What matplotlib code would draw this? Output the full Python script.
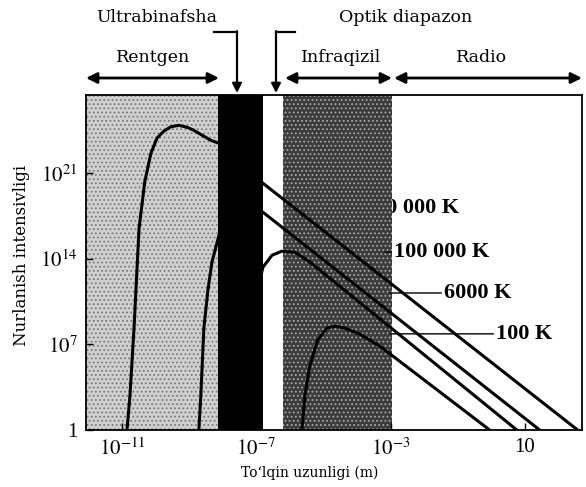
import matplotlib
matplotlib.use('Agg')
import numpy as np
import matplotlib.pyplot as plt
from matplotlib.lines import Line2D

plt.rcParams['font.family'] = ['Liberation Serif', 'DejaVu Serif']
plt.rcParams['mathtext.fontset'] = 'stix'
plt.rcParams['hatch.linewidth'] = 0.8

# curves, as log10 values (wavelength in m, intensity)
lam_10m = [-10.85, -10.76, -10.64, -10.49, -10.32, -10.14, -9.96, -9.75, -9.54, -9.30, -9.05, -8.86, -8.35, -8.11, -6.80, 2.57]
int_10m = [0, 2.86, 8.33, 16.50, 20.30, 22.60, 23.86, 24.45, 24.80, 24.92, 24.75, 24.51, 23.69, 23.45, 20.18, 0]

lam_100k = [-8.71, -8.65, -8.56, -8.44, -8.32, -8.11, -7.49, -6.80, 1.44]
int_100k = [0, 2.86, 8.33, 11.44, 13.73, 15.93, 17.97, 17.81, 0]

lam_6000 = [-7.64, -7.04, -6.80, -6.53, -6.24, -5.85, -5.40, 0.76]
int_6000 = [0, 10.62, 13.32, 14.30, 14.62, 14.54, 13.73, 0]

lam_100 = [-5.64, -5.55, -5.40, -5.17, -4.90, -4.66, -4.36, -3.92, -3.32, -0.05]
int_100 = [0, 2.86, 5.31, 7.35, 8.33, 8.50, 8.33, 7.84, 6.86, 0]

# spectral bands, log10 of wavelength
xray_end = -8.14
uv_end = -6.80
ir_start = -6.21
ir_end = -2.96

x_ticks = [1e-11, 1e-7, 1e-3, 10]
x_labels = ['$10^{-11}$', '$10^{-7}$', '$10^{-3}$', '10']
y_ticks = [1, 1e7, 1e14, 1e21]
y_labels = ['1', '$10^{7}$', '$10^{14}$', '$10^{21}$']

W, H = 586, 487
fig = plt.figure(figsize=(W / 100, H / 100), dpi=100)
ax = fig.add_axes([86 / W, 57 / H, 496 / W, 335 / H])
ax.set_xscale('log')
ax.set_yscale('log')
xmin, xmax = 10 ** -12.07, 10 ** 2.7
ax.set_xlim(xmin, xmax)
ax.set_ylim(1, 10 ** 27.4)

# shaded bands
ax.axvspan(xmin, 10 ** xray_end, facecolor='#cfcfcf', edgecolor='#7a7a7a',
           hatch='....', linewidth=0, zorder=0.5)
ax.axvspan(10 ** xray_end, 10 ** uv_end, facecolor='black', linewidth=0, zorder=3)
ax.axvspan(10 ** ir_start, 10 ** ir_end, facecolor='#3c3c3c', edgecolor='#a8a8a8',
           hatch='....', linewidth=0, zorder=1.5)

# blackbody curves
for lam, inten in [(lam_10m, int_10m), (lam_100k, int_100k),
                   (lam_6000, int_6000), (lam_100, int_100)]:
    ax.plot(10 ** np.array(lam), 10 ** np.array(inten), color='black',
            lw=2.2, solid_capstyle='butt', solid_joinstyle='round', zorder=2)

# temperature labels
ax.text(0.505, 0.663, '10 000 000 K', transform=ax.transAxes, fontsize=16,
        fontweight='bold', va='center', ha='left', zorder=1)
label_kw = dict(xycoords='axes fraction', textcoords='axes fraction', fontsize=16,
                fontweight='bold', va='center', ha='left', zorder=4,
                arrowprops=dict(arrowstyle='-', lw=1, shrinkA=0, shrinkB=0, color='black'))
ax.annotate('100 000 K', xy=(0.603, 0.531), xytext=(0.621, 0.531), **label_kw)
ax.annotate('6000 K', xy=(0.613, 0.409), xytext=(0.722, 0.409), **label_kw)
ax.annotate('100 K', xy=(0.613, 0.287), xytext=(0.827, 0.287), **label_kw)

ax.set_xticks(x_ticks)
ax.set_xticklabels(x_labels, fontsize=15)
ax.set_yticks(y_ticks)
ax.set_yticklabels(y_labels, fontsize=15)
ax.minorticks_off()
ax.tick_params(direction='in', length=5, width=1, pad=6)
for s in ax.spines.values():
    s.set_linewidth(1.3)
    s.set_zorder(5)


# helpers in picture pixels (top-left origin)
def fx(x):
    return x / W


def fy(y):
    return 1 - y / H


def harrow(x1, x2, y):
    fig.add_artist(plt.Annotation('', xy=(fx(x2), fy(y)), xytext=(fx(x1), fy(y)),
                                  xycoords='figure fraction', textcoords='figure fraction',
                                  arrowprops=dict(arrowstyle='<|-|>', lw=2, color='black',
                                                  mutation_scale=16, shrinkA=0, shrinkB=0)))


def bracket(x_end, x_other, y_top, y_tip):
    fig.add_artist(Line2D([fx(x_other), fx(x_end)], [fy(y_top), fy(y_top)],
                          transform=fig.transFigure, color='black', lw=1.6))
    fig.add_artist(plt.Annotation('', xy=(fx(x_end), fy(y_tip)), xytext=(fx(x_end), fy(y_top - 0.8)),
                                  xycoords='figure fraction', textcoords='figure fraction',
                                  arrowprops=dict(arrowstyle='-|>', lw=1.6, color='black',
                                                  mutation_scale=14, shrinkA=0, shrinkB=0)))


harrow(86, 219, 78)
harrow(285, 392, 78)
harrow(394, 582, 78)
bracket(237, 214, 32, 93)
bracket(276, 295, 32, 93)

top_font = dict(family=['DejaVu Serif'], fontsize=12.5, ha='center', va='center')
fig.text(fx(157), fy(17), 'Ultrabinafsha', **top_font)
fig.text(fx(406), fy(17), 'Optik diapazon', **top_font)
fig.text(fx(153), fy(58), 'Rentgen', **top_font)
fig.text(fx(341), fy(58), 'Infraqizil', **top_font)
fig.text(fx(482), fy(58), 'Radio', **top_font)

fig.text(fx(22), fy(255), 'Nurlanish intensivligi', family=['DejaVu Serif'], fontsize=12,
         rotation=90, ha='center', va='center')
fig.text(fx(310), fy(473), 'To‘lqin uzunligi (m)', family=['DejaVu Serif'], fontsize=10,
         ha='center', va='center')

plt.savefig('out.png', dpi=100, facecolor='white')
